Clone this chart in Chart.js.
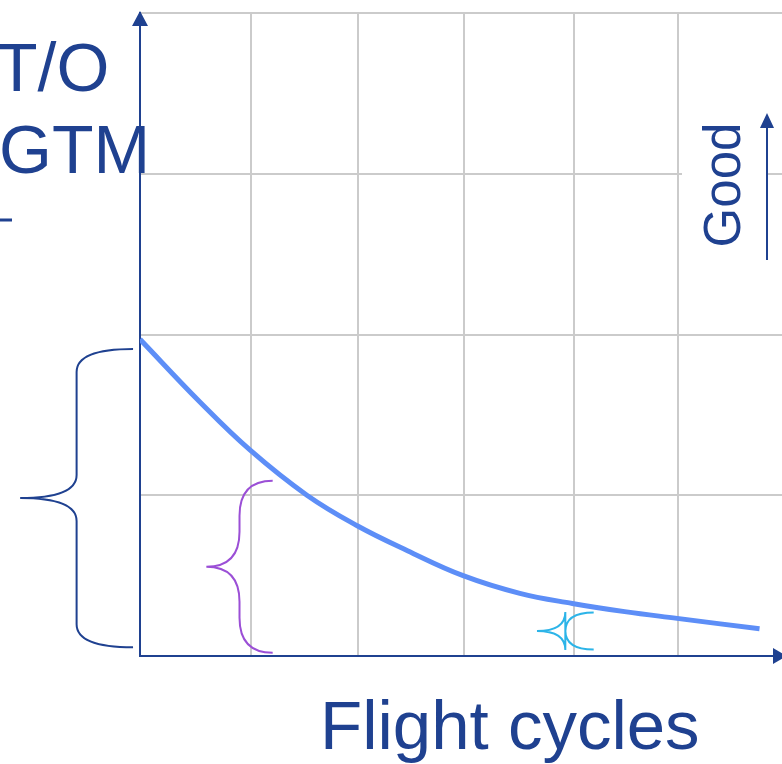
<!DOCTYPE html>
<html>
<head>
<meta charset="utf-8">
<script src="https://cdn.jsdelivr.net/npm/chart.js"></script>
<style>
  html, body { margin: 0; padding: 0; background: #fff; overflow: hidden; }
  #wrap { position: relative; width: 782px; height: 764px; }
</style>
</head>
<body>
<div id="wrap"><canvas id="chart" width="782" height="764"></canvas></div>
<script>
// 곡선 데이터 (grid units)
const cycles = [0, 0.56, 1.03, 1.56, 2.03, 2.50, 3.02, 3.55, 4.04, 4.53, 5.02, 5.79];
const egtMargin = [1.97, 1.58, 1.28, 1.00, 0.81, 0.655, 0.50, 0.39, 0.327, 0.276, 0.234, 0.169];
// 세로 그리드 위치
const xGridTicks = [0, 1.04, 2.04, 3.03, 4.06, 5.03];
const yGridTicks = [0, 1, 2, 3, 4];

const navy = '#1f4190';
const gridColor = '#cbcbcb';

// 중괄호 주석: tip/end x, top/bottom y (data units)
const braces = [
  { tipX: -1.12, endX: -0.065, top: 1.91, bottom: 0.055, r: 23, color: navy },
  { tipX: 0.62, endX: 1.24, top: 1.09, bottom: 0.02, r: 35, color: '#9b4fd6' },
  { tipX: 3.71, endX: 4.24, top: 0.27, bottom: 0.04, r: 19, color: '#2cb4e8' }
];

const annotations = {
  id: 'annotations',
  beforeDatasetsDraw(chart) {
    const ctx = chart.ctx;
    // "Good" 텍스트 박스 배경 (그리드 가림)
    ctx.save();
    ctx.fillStyle = '#ffffff';
    ctx.fillRect(682, 100, 86, 170);
    ctx.restore();
  },
  afterDraw(chart) {
    const ctx = chart.ctx;
    const xs = chart.scales.x;
    const ys = chart.scales.y;
    const area = chart.chartArea;

    ctx.save();
    // 축 화살표
    ctx.fillStyle = navy;
    ctx.beginPath();
    ctx.moveTo(area.left, 11);
    ctx.lineTo(area.left - 8, 26);
    ctx.lineTo(area.left + 8, 26);
    ctx.closePath();
    ctx.fill();
    ctx.beginPath();
    ctx.moveTo(787, area.bottom);
    ctx.lineTo(773, area.bottom - 8);
    ctx.lineTo(773, area.bottom + 8);
    ctx.closePath();
    ctx.fill();

    // Good 화살표
    ctx.strokeStyle = navy;
    ctx.lineWidth = 2;
    ctx.beginPath();
    ctx.moveTo(767, 260);
    ctx.lineTo(767, 122);
    ctx.stroke();
    ctx.beginPath();
    ctx.moveTo(767, 113);
    ctx.lineTo(760, 128);
    ctx.lineTo(774, 128);
    ctx.closePath();
    ctx.fill();

    // 중괄호
    braces.forEach(b => {
      const xt = xs.getPixelForValue(b.tipX);
      const xe = xs.getPixelForValue(b.endX);
      const yt = ys.getPixelForValue(b.top);
      const yb = ys.getPixelForValue(b.bottom);
      const ym = (yt + yb) / 2;
      const sp = (xt + xe) / 2;
      ctx.strokeStyle = b.color;
      ctx.lineWidth = 2;
      ctx.beginPath();
      ctx.moveTo(xe, yt);
      ctx.quadraticCurveTo(sp, yt, sp, yt + b.r);
      ctx.lineTo(sp, ym - b.r);
      ctx.quadraticCurveTo(sp, ym, xt, ym);
      ctx.quadraticCurveTo(sp, ym, sp, ym + b.r);
      ctx.lineTo(sp, yb - b.r);
      ctx.quadraticCurveTo(sp, yb, xe, yb);
      ctx.stroke();
    });

    // 작은 대시
    ctx.strokeStyle = navy;
    ctx.lineWidth = 3;
    ctx.beginPath();
    ctx.moveTo(0, 220);
    ctx.lineTo(12, 220);
    ctx.stroke();

    // 텍스트
    ctx.fillStyle = navy;
    ctx.textBaseline = 'alphabetic';
    ctx.textAlign = 'left';
    ctx.font = '68px "Liberation Sans", Arial, sans-serif';
    ctx.fillText('T/O', -4, 91);
    ctx.fillText('GTM', -1, 173);
    ctx.font = '69px "Liberation Sans", Arial, sans-serif';
    ctx.fillText('Flight cycles', 320, 749);

    ctx.translate(740, 185);
    ctx.rotate(-Math.PI / 2);
    ctx.textAlign = 'center';
    ctx.font = '51px "Liberation Sans", Arial, sans-serif';
    ctx.fillText('Good', 0, 0);
    ctx.restore();
  }
};

const ctx = document.getElementById('chart');
window.chart = new Chart(ctx, {
  type: 'line',
  data: {
    datasets: [{
      data: cycles.map((c, i) => ({ x: c, y: egtMargin[i] })),
      borderColor: '#5d8ef7',
      borderWidth: 5,
      pointRadius: 0,
      tension: 0.4,
      fill: false
    }]
  },
  options: {
    responsive: false,
    animation: false,
    events: [],
    layout: {
      autoPadding: false,
      padding: { left: 140, top: 13, right: 0, bottom: 108 }
    },
    plugins: {
      legend: { display: false },
      tooltip: { enabled: false }
    },
    scales: {
      x: {
        type: 'linear',
        min: 0,
        max: 6,
        afterBuildTicks: axis => { axis.ticks = xGridTicks.map(v => ({ value: v })); },
        ticks: { display: false },
        grid: { color: gridColor, lineWidth: 2, drawTicks: false },
        border: { color: navy, width: 2 }
      },
      y: {
        type: 'linear',
        min: 0,
        max: 4,
        afterBuildTicks: axis => { axis.ticks = yGridTicks.map(v => ({ value: v })); },
        ticks: { display: false },
        grid: { color: gridColor, lineWidth: 2, drawTicks: false },
        border: { color: navy, width: 2 }
      }
    }
  },
  plugins: [annotations]
});
</script>
</body>
</html>
